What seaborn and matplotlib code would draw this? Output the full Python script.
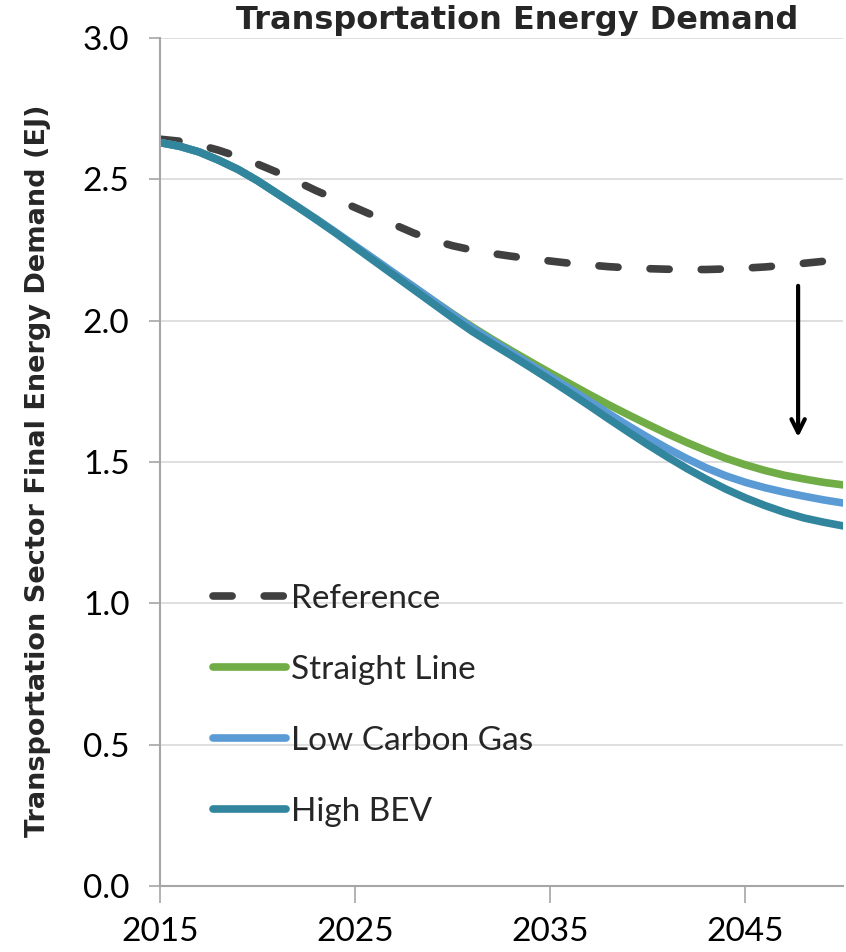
import matplotlib
matplotlib.use("Agg")
import matplotlib.pyplot as plt
import seaborn as sns
import pandas as pd

years = list(range(2015, 2051))
reference = [2.642, 2.635, 2.622, 2.603, 2.58, 2.554, 2.525, 2.493, 2.46, 2.43,
             2.40, 2.37, 2.34, 2.31, 2.285, 2.265, 2.25, 2.238, 2.228, 2.219,
             2.211, 2.203, 2.197, 2.191, 2.187, 2.184, 2.182, 2.181, 2.181, 2.183,
             2.186, 2.19, 2.196, 2.203, 2.21, 2.215]
straight_line = [2.63, 2.617, 2.597, 2.568, 2.535, 2.495, 2.45, 2.405, 2.36, 2.312,
                 2.263, 2.215, 2.167, 2.119, 2.071, 2.024, 1.978, 1.935, 1.894, 1.854,
                 1.815, 1.777, 1.739, 1.702, 1.667, 1.633, 1.60, 1.569, 1.54, 1.513,
                 1.49, 1.47, 1.453, 1.44, 1.428, 1.419]
low_carbon_gas = [2.63, 2.617, 2.597, 2.568, 2.535, 2.495, 2.45, 2.405, 2.36, 2.313,
                  2.265, 2.217, 2.168, 2.12, 2.071, 2.022, 1.974, 1.93, 1.887, 1.844,
                  1.802, 1.759, 1.715, 1.671, 1.628, 1.587, 1.548, 1.512, 1.479, 1.451,
                  1.428, 1.409, 1.393, 1.379, 1.366, 1.355]
high_bev = [2.63, 2.617, 2.597, 2.568, 2.535, 2.495, 2.45, 2.405, 2.358, 2.31,
            2.26, 2.21, 2.16, 2.11, 2.06, 2.01, 1.962, 1.919, 1.877, 1.834,
            1.79, 1.745, 1.699, 1.652, 1.606, 1.561, 1.518, 1.477, 1.439, 1.404,
            1.373, 1.346, 1.322, 1.302, 1.287, 1.274]

series_names = ["Reference", "Straight Line", "Low Carbon Gas", "High BEV"]
series_values = [reference, straight_line, low_carbon_gas, high_bev]
colors = ["#404040", "#70AD47", "#5B9BD5", "#31859C"]

x_ticks = [2015, 2025, 2035, 2045]
y_ticks = [0.0, 0.5, 1.0, 1.5, 2.0, 2.5, 3.0]

sns.set_theme(style="white")
plt.rcParams["font.family"] = ["Lato", "DejaVu Sans"]

fig = plt.figure(figsize=(8.46, 9.52), dpi=100)
ax = fig.add_axes([160 / 846, 1 - 886 / 952, (843 - 160) / 846, (886 - 38) / 952])

for name, vals, col in zip(series_names, series_values, colors):
    df = pd.DataFrame({"Year": years, "Demand": vals})
    kw = dict(color=col, linewidth=5.5, label=name, solid_capstyle="round",
              solid_joinstyle="round")
    if name == "Reference":
        kw.update(linestyle=(0, (2.5, 4.2)), dash_capstyle="round")
    sns.lineplot(data=df, x="Year", y="Demand", ax=ax, **kw)

ax.set_xlim(2015, 2050)
ax.set_ylim(0, 3.0)
ax.set_xticks(x_ticks)
ax.set_yticks(y_ticks)
ax.set_yticklabels([f"{v:.1f}" for v in y_ticks])
ax.tick_params(axis="both", labelsize=24, colors="#000000")
ax.tick_params(axis="y", length=8, width=1.2, color="#A6A6A6", direction="out", pad=14, left=True)
ax.tick_params(axis="x", length=12, width=1.2, color="#A6A6A6", direction="out", pad=10, bottom=True)
ax.grid(axis="y", color="#D9D9D9", linewidth=1.2)
ax.grid(axis="x", visible=False)
for s in ["top", "right"]:
    ax.spines[s].set_visible(False)
for s in ["left", "bottom"]:
    ax.spines[s].set_color("#A6A6A6")
    ax.spines[s].set_linewidth(1.5)
ax.set_xlabel("")
ax.set_ylabel("Transportation Sector Final Energy Demand (EJ)", fontsize=19.5,
              fontweight="bold", family=["DejaVu Sans"])
ax.yaxis.set_label_coords(-0.16, 0.49)

fig.text(517 / 846, 1 - 21 / 952, "Transportation Energy Demand", ha="center", va="center",
         fontsize=23, fontweight="bold", family=["DejaVu Sans"])

ax.annotate("", xy=(2047.7, 1.578), xytext=(2047.7, 2.133),
            arrowprops=dict(arrowstyle="->,head_length=0.8,head_width=0.4", color="black", lw=3))

leg = ax.legend(loc="center left", bbox_to_anchor=(0.236, 0.259), bbox_transform=fig.transFigure,
                frameon=False, fontsize=24, handlelength=2.2, handletextpad=0.15,
                labelspacing=1.23, borderaxespad=0)

fig.savefig("out.png", dpi=100)
